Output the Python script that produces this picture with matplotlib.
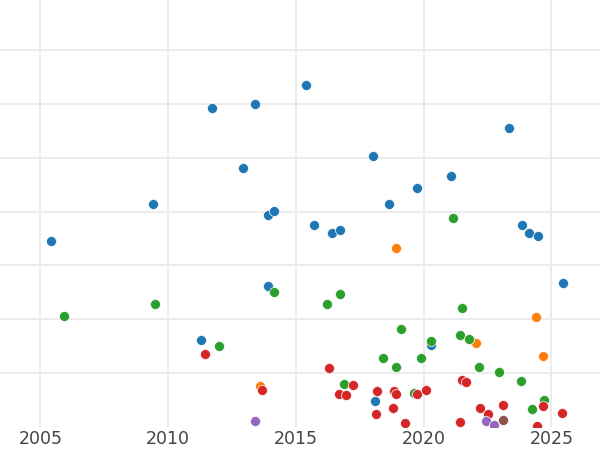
import matplotlib
matplotlib.use("Agg")
import matplotlib.pyplot as plt

# year / value per group (y in grid units)
blue_x = [2005.41, 2009.41, 2011.73, 2013.41, 2012.92, 2013.91, 2014.16, 2015.41,
          2015.71, 2016.42, 2016.73, 2018.01, 2018.66, 2019.72, 2021.07, 2023.34,
          2023.85, 2024.12, 2024.47, 2013.91, 2025.45, 2011.29, 2020.30, 2018.11]
blue_y = [3.45, 4.15, 5.93, 5.99, 4.81, 3.94, 4.02, 6.35,
          3.76, 3.60, 3.65, 5.04, 4.15, 4.44, 4.66, 5.56,
          3.75, 3.60, 3.55, 2.62, 2.68, 1.61, 1.52, 0.48]

orange_x = [2018.91, 2024.41, 2022.05, 2024.66, 2013.60]
orange_y = [3.32, 2.05, 1.56, 1.32, 0.76]

green_x = [2005.92, 2009.48, 2011.99, 2014.15, 2016.21, 2016.73, 2021.16, 2021.50,
           2019.13, 2020.30, 2018.41, 2019.91, 2018.91, 2016.90, 2019.63, 2021.41,
           2021.77, 2022.17, 2022.93, 2023.80, 2024.71, 2024.22]
green_y = [2.07, 2.29, 1.50, 2.51, 2.29, 2.47, 3.89, 2.21,
           1.82, 1.60, 1.28, 1.29, 1.12, 0.80, 0.63, 1.71,
           1.64, 1.11, 1.03, 0.85, 0.50, 0.33]

red_x = [2011.46, 2013.67, 2016.30, 2016.70, 2016.96, 2017.23, 2018.19, 2018.82,
         2018.92, 2019.72, 2020.11, 2018.15, 2018.80, 2019.25, 2021.49, 2021.67,
         2022.21, 2022.53, 2023.11, 2024.66, 2025.41, 2021.44, 2024.44]
red_y = [1.36, 0.68, 1.09, 0.62, 0.60, 0.78, 0.67, 0.67,
         0.61, 0.62, 0.68, 0.24, 0.35, 0.08, 0.88, 0.83,
         0.36, 0.24, 0.41, 0.39, 0.26, 0.09, 0.02]

purple_x = [2013.41, 2022.42, 2022.76]
purple_y = [0.12, 0.12, 0.03]

brown_x = [2023.12]
brown_y = [0.13]

xticks = [2005, 2010, 2015, 2020, 2025]

fig = plt.figure(figsize=(6, 4.5), dpi=100)
ax = fig.add_axes([0, 1 - 427 / 450, 1, 427 / 450])

groups = [
    (blue_x, blue_y, "#1f77b4"),
    (orange_x, orange_y, "#ff7f0e"),
    (green_x, green_y, "#2ca02c"),
    (red_x, red_y, "#d62728"),
    (purple_x, purple_y, "#9467bd"),
    (brown_x, brown_y, "#8c564b"),
]
for gx, gy, c in groups:
    ax.scatter(gx, gy, s=52, color=c, edgecolors="white", linewidths=0.5, zorder=3)

ax.set_xlim(2003.42, 2026.9)
ax.set_ylim(0, 7.93)
ax.set_xticks(xticks)
ax.set_xticklabels([str(t) for t in xticks])
ax.set_yticks(range(1, 8))
ax.set_yticklabels([])
ax.tick_params(length=0, labelsize=12.5, labelcolor="#444444", pad=2)
ax.grid(True, color="#ebebeb", linewidth=1.3)
ax.set_axisbelow(True)
for s in ax.spines.values():
    s.set_visible(False)

fig.savefig("out.png", dpi=100)
